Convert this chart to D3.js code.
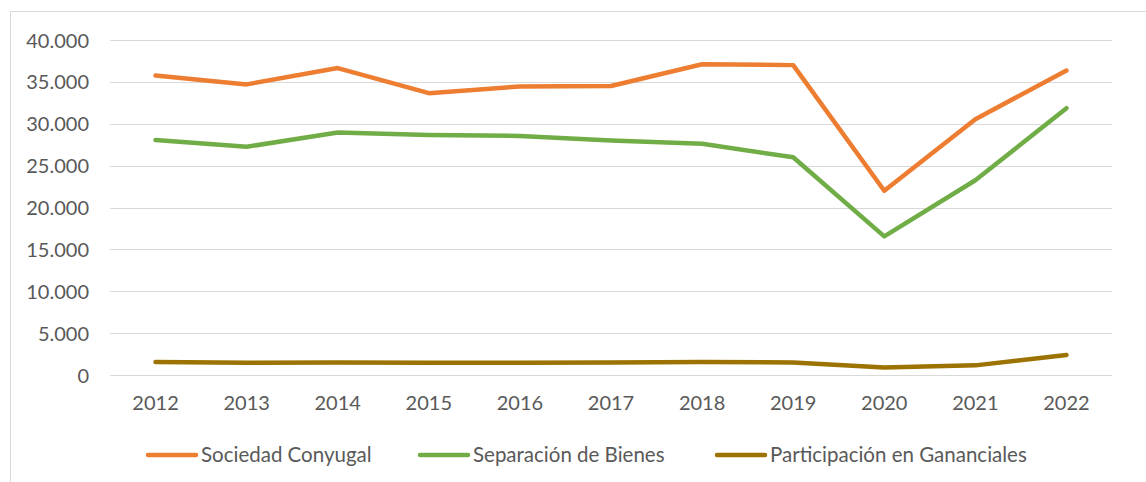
<html>
<head>
  <style>
    body { margin: 0; background: #fff; }
    text { font-family: Lato, "Open Sans", sans-serif; fill: #595959; }
  </style>
  <script src="https://d3js.org/d3.v7.min.js"></script>
</head>
<body>
<script>
// data
var years = ["2012","2013","2014","2015","2016","2017","2018","2019","2020","2021","2022"];
var sociedad = [35750, 34700, 36650, 33650, 34450, 34500, 37100, 37000, 22000, 30550, 36350];
var separacion = [28050, 27250, 28950, 28650, 28550, 28000, 27600, 26000, 16550, 23250, 31850];
var participacion = [1550, 1450, 1500, 1450, 1450, 1500, 1550, 1500, 900, 1150, 2400];
var seriesNames = ["Sociedad Conyugal", "Separación de Bienes", "Participación en Gananciales"];
var colors = ["#ED7D31", "#70AD47", "#9C7300"];
var yTicks = [0, 5000, 10000, 15000, 20000, 25000, 30000, 35000, 40000];

var W = 1146, H = 482;
var plot = {left: 110, right: 1112, top: 40, bottom: 375};

var svg = d3.select("body").append("svg")
  .attr("width", W).attr("height", H);

// chart border
svg.append("rect")
  .attr("x", 10.5).attr("y", 11.5)
  .attr("width", W + 20).attr("height", H + 20)
  .attr("fill", "none").attr("stroke", "#d9d9d9");

var x = d3.scaleBand().domain(years).range([plot.left, plot.right]);
var y = d3.scaleLinear().domain([0, 40000]).range([plot.bottom, plot.top]);

var fmt = function(v){ return v === 0 ? "0" : d3.format(",")(v).replace(/,/g, "."); };

// gridlines
svg.append("g").selectAll("line")
  .data(yTicks).enter().append("line")
  .attr("x1", plot.left).attr("x2", plot.right)
  .attr("y1", function(d){ return Math.round(y(d)) + 0.5; })
  .attr("y2", function(d){ return Math.round(y(d)) + 0.5; })
  .attr("stroke", "#d9d9d9").attr("stroke-width", 1.2);

// y axis labels
var yAxis = d3.axisLeft(y).tickValues(yTicks).tickFormat(fmt).tickSize(0).tickPadding(0);
var gy = svg.append("g").attr("transform", "translate(89,0)").call(yAxis);
gy.select(".domain").remove();
gy.selectAll("text").style("font-size", "20px").attr("fill", "#595959").attr("dy", "0.35em");

// x axis labels
var xAxis = d3.axisBottom(x).tickSize(0).tickPadding(0);
var gx = svg.append("g").attr("transform", "translate(0," + (plot.bottom + 21) + ")").call(xAxis);
gx.select(".domain").remove();
gx.selectAll("text").style("font-size", "20px").attr("fill", "#595959").attr("dy", "0.71em");

var line = d3.line()
  .x(function(d, i){ return x(years[i]) + x.bandwidth() / 2; })
  .y(function(d){ return y(d); });

[sociedad, separacion, participacion].forEach(function(s, k){
  svg.append("path")
    .datum(s)
    .attr("d", line)
    .attr("fill", "none")
    .attr("stroke", colors[k])
    .attr("stroke-width", 4.5)
    .attr("stroke-linejoin", "round")
    .attr("stroke-linecap", "round");
});

// legend
var legendX = [148, 420, 717];
var lg = svg.append("g").selectAll("g")
  .data(seriesNames).enter().append("g")
  .attr("transform", function(d, i){ return "translate(" + legendX[i] + ",455)"; });
lg.append("line")
  .attr("x1", 0).attr("x2", 48).attr("y1", 0).attr("y2", 0)
  .attr("stroke", function(d, i){ return colors[i]; })
  .attr("stroke-width", 4.5).attr("stroke-linecap", "round");
lg.append("text")
  .attr("x", 53).attr("y", 0).attr("dy", "0.35em")
  .style("font-size", "20.5px")
  .text(function(d){ return d; });
</script>
</body>
</html>
